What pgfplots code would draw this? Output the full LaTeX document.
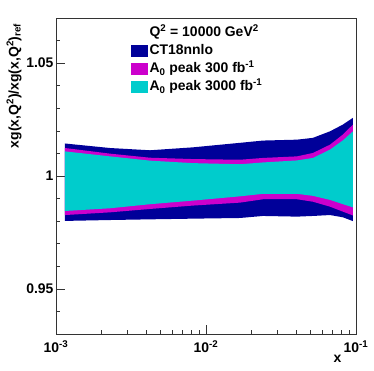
\documentclass[border=0pt]{standalone}
\usepackage{fontspec}
\setmainfont{Liberation Sans}
\usepackage{pgfplots}
\pgfplotsset{compat=1.18}
\definecolor{ctblue}{RGB}{0,0,153}
\definecolor{amag}{RGB}{204,0,204}
\definecolor{acyan}{RGB}{0,204,204}

\begin{document}
\begin{tikzpicture}
\begin{axis}[
  name=ax, scale only axis, width=300bp, height=316bp,
  xmode=log, xmin=1e-3, xmax=1e-1, ymin=0.93, ymax=1.07,
  axis line style={line width=0.9pt, black!80},
  tick style={line width=0.7pt, black!80},
  major tick length=9bp, minor tick length=4.5bp,
  tick align=inside, xtick pos=bottom, ytick pos=left,
  xtick={1e-3,1e-2,1e-1},
  xticklabels={10\textsuperscript{-3},10\textsuperscript{-2},10\textsuperscript{-1}},
  ytick={0.95,1,1.05}, yticklabels={0.95,1,1.05},
  minor ytick={0.94,0.96,0.97,0.98,0.99,1.01,1.02,1.03,1.04,1.06},
  ticklabel style={font=\bfseries\fontsize{14}{16}\selectfont},
  yticklabel style={xshift=1bp},
  xticklabel style={yshift=-3bp},
  xlabel={x}, xlabel style={at={(rel axis cs:0.963,0)}, anchor=north east, yshift=-18bp,
    font=\bfseries\fontsize{14}{16}\selectfont},
  ylabel={xg(x,Q\textsuperscript{2})/xg(x,Q\textsuperscript{2})\textsubscript{ref}},
  ylabel style={at={(rel axis cs:-0.14,0.994)}, anchor=east,
    font=\bfseries\fontsize{14}{16}\selectfont},
  legend image code/.code={\fill[#1] (0bp,-6bp) rectangle (17bp,6bp);},
  legend style={at={(rel axis cs:0.238,0.988)}, anchor=north west, draw=none, fill=none,
    font=\bfseries\fontsize{14}{16}\selectfont, row sep=0pt,
    nodes={inner sep=2bp, text height=11bp, text depth=3bp}},
  legend cell align=left,
]
\addlegendimage{empty legend}
\addlegendentry{Q\textsuperscript{2} = 10000 GeV\textsuperscript{2}}

% CT18nnlo band
\addplot[draw=none, fill=ctblue] coordinates {
  (0.001148,1.0144) (0.002291,1.0124) (0.004236,1.0114) (0.008185,1.0127)
  (0.01687,1.0147) (0.02399,1.0157) (0.04046,1.0161) (0.05164,1.0169)
  (0.06714,1.0198) (0.08185,1.0228) (0.0955,1.0258)
  (0.0955,0.9800) (0.08185,0.9817) (0.06714,0.9827) (0.05164,0.9823)
  (0.04046,0.9820) (0.02399,0.9823) (0.01687,0.9814) (0.008185,0.9811)
  (0.004236,0.9808) (0.002291,0.9805) (0.001148,0.9801)
} -- cycle;
\addlegendentry{CT18nnlo}

% A0 peak 300 fb-1
\addplot[draw=none, fill=amag] coordinates {
  (0.001148,1.0124) (0.002291,1.0099) (0.004236,1.0081) (0.008185,1.0075)
  (0.01687,1.0072) (0.02399,1.0080) (0.04046,1.0087) (0.05164,1.0102)
  (0.06714,1.0139) (0.08185,1.0184) (0.0955,1.0228)
  (0.0955,0.9825) (0.08185,0.9842) (0.06714,0.9864) (0.05164,0.9886)
  (0.04046,0.9897) (0.02399,0.9897) (0.01687,0.9882) (0.008185,0.9869)
  (0.004236,0.9854) (0.002291,0.9839) (0.001148,0.9827)
} -- cycle;
\addlegendentry{A\textsubscript{0} peak 300 fb\textsuperscript{-1}}

% A0 peak 3000 fb-1
\addplot[draw=none, fill=acyan] coordinates {
  (0.001148,1.0109) (0.002291,1.0087) (0.004236,1.0068) (0.008185,1.0057)
  (0.01687,1.0052) (0.02399,1.0060) (0.04046,1.0069) (0.05164,1.0080)
  (0.06714,1.0117) (0.08185,1.0158) (0.0955,1.0198)
  (0.0955,0.9861) (0.08185,0.9875) (0.06714,0.9894) (0.05164,0.9912)
  (0.04046,0.9921) (0.02399,0.9921) (0.01687,0.9910) (0.008185,0.9891)
  (0.004236,0.9875) (0.002291,0.9857) (0.001148,0.9845)
} -- cycle;
\addlegendentry{A\textsubscript{0} peak 3000 fb\textsuperscript{-1}}
\end{axis}
\pgfresetboundingbox
\path (ax.south west) ++(-56bp,-37bp) coordinate (bl);
\path (ax.north east) ++(18bp,18bp) coordinate (tr);
\path[use as bounding box] (bl) rectangle (tr);
\end{tikzpicture}
\end{document}
